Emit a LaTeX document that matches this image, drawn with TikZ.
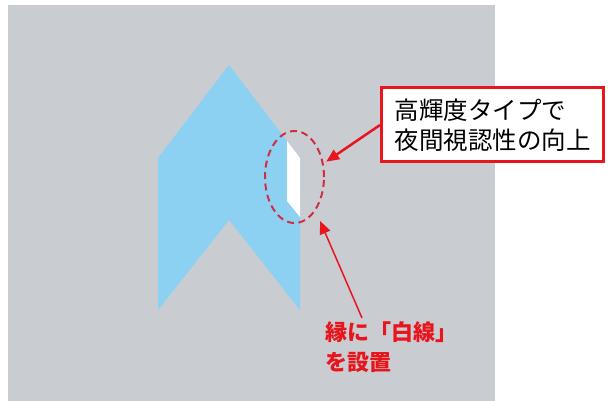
\documentclass[tikz,border=0pt]{standalone}
\usepackage{fontspec}
\newfontfamily\jp{Noto Sans CJK JP}
\usetikzlibrary{arrows.meta,shapes.geometric}
\definecolor{roadgray}{RGB}{201,204,209}
\definecolor{signblue}{RGB}{141,209,242}
\definecolor{callred}{RGB}{232,22,28}
\definecolor{ringred}{RGB}{208,46,66}
\begin{document}
\begin{tikzpicture}[x=1pt,y=-1pt,line join=miter,
  callout/.style={draw=callred,line width=3pt,fill=white,align=left,inner xsep=13pt,minimum height=74pt,font=\jp\fontsize{24.5}{30}\selectfont},
  remark/.style={align=left,inner sep=0pt,text=callred,font=\jp\bfseries\fontsize{22}{30}\selectfont},
  ring/.style={ellipse,draw=ringred,dashed,dash pattern=on 7pt off 4.5pt,line width=2pt,inner sep=0pt,minimum width=59pt,minimum height=92pt},
  pointer/.style={-{Triangle[length=13pt,width=11pt]},draw=callred,fill=callred}]
\useasboundingbox (0,0) rectangle (608,401);
% road surface
\fill[roadgray] (8,5) rectangle (495,401);
% arrow sign with the white edge line
\fill[signblue] (229,65)--(300,158)--(300,310)--(229,220)--(158,310)--(158,158)--cycle;
\fill[white] (287,141)--(300,158)--(300,217)--(287,201)--cycle;
\node[ring] (edge) at (294.5,177) {};
% labels
\node[callout,anchor=west] (note) at (380,125) {高輝度タイプで\\夜間視認性の向上};
\node[remark,anchor=north west] (mark) at (325,321) {縁に「白線」\\を設置};
\draw[pointer,line width=2.5pt,shorten >=3pt] (note.west)--(edge.25);
\draw[pointer,line width=1.5pt,shorten >=11pt] ([xshift=37pt,yshift=3pt]mark.north west)--(edge.-58);
\end{tikzpicture}
\end{document}
